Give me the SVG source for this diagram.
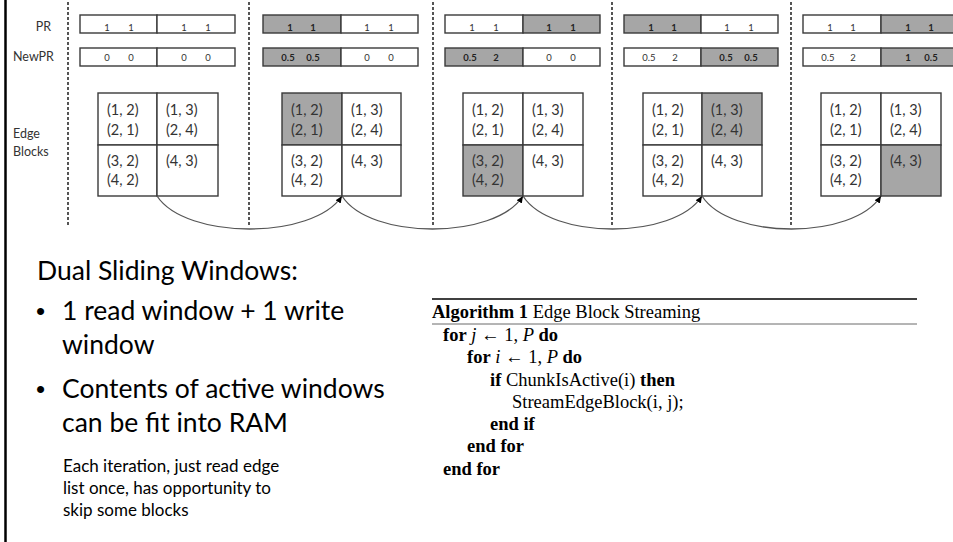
<svg xmlns="http://www.w3.org/2000/svg" width="953" height="542" viewBox="0 0 953 542">
<style>
.bar{stroke:#3a3a3a;stroke-width:1.4}
.w{fill:#ffffff}
.g{fill:#a6a6a6}
.num{font-family:Lato,"Liberation Sans",sans-serif;font-size:9.5px;fill:#333;text-anchor:middle}
.b{font-weight:bold;fill:#222}
.cell{stroke:#3a3a3a;stroke-width:1.4}
.ct{font-family:Lato,"Liberation Sans",sans-serif;font-size:14.5px;fill:#333}
.lab{font-family:Lato,"Liberation Sans",sans-serif;font-size:12.5px;fill:#333}
.div{stroke:#555;stroke-width:2;stroke-dasharray:3 2;fill:none}
.arc{fill:none;stroke:#555;stroke-width:1.3}
.big{font-family:Lato,"Liberation Sans",sans-serif;font-size:26.5px;fill:#000}
.dot{font-family:"Liberation Sans",Arial,sans-serif;font-size:26px;fill:#000}
.small{font-family:Lato,"Liberation Sans",sans-serif;font-size:17px;fill:#000}
.alg{font-family:"Liberation Serif","Times New Roman",serif;font-size:18.5px;fill:#000}
</style>
<defs>
<marker id="ah" markerWidth="8" markerHeight="8" refX="7" refY="3" orient="auto" markerUnits="userSpaceOnUse">
<path d="M0,0 L7,3 L0,6 z" fill="#000"/>
</marker>
</defs>
<rect x="0" y="0" width="953" height="542" fill="#fff"/>
<line x1="5.5" y1="0" x2="5.5" y2="542" stroke="#000" stroke-width="2.5"/>

<g id="labels">
<text class="lab" x="51" y="31" text-anchor="end">PR</text>
<text class="lab" x="13" y="61">NewPR</text>
<text class="lab" x="13" y="138">Edge</text>
<text class="lab" x="13" y="156">Blocks</text>
</g>

<g id="dividers">
<line class="div" x1="68" y1="2" x2="68" y2="226"/>
<line class="div" x1="249" y1="2" x2="249" y2="226"/>
<line class="div" x1="433" y1="2" x2="433" y2="226"/>
<line class="div" x1="612" y1="2" x2="612" y2="226"/>
<line class="div" x1="791" y1="2" x2="791" y2="226"/>
</g>

<g id="panel1">
<rect class="bar w" x="80" y="15" width="77" height="18"/>
<rect class="bar w" x="157" y="15" width="78" height="18"/>
<text class="num" x="107" y="31">1</text><text class="num" x="131" y="31">1</text>
<text class="num" x="184" y="31">1</text><text class="num" x="208" y="31">1</text>
<rect class="bar w" x="80" y="48" width="77" height="18"/>
<rect class="bar w" x="157" y="48" width="78" height="18"/>
<text class="num" x="107" y="61">0</text><text class="num" x="131" y="61">0</text>
<text class="num" x="184" y="61">0</text><text class="num" x="208" y="61">0</text>
<rect class="cell w" x="98" y="93" width="59" height="52"/>
<rect class="cell w" x="157" y="93" width="61" height="52"/>
<rect class="cell w" x="98" y="145" width="59" height="51"/>
<rect class="cell w" x="157" y="145" width="61" height="51"/>
<text class="ct" x="107" y="115">(1, 2)</text><text class="ct" x="107" y="135">(2, 1)</text>
<text class="ct" x="166" y="115">(1, 3)</text><text class="ct" x="166" y="135">(2, 4)</text>
<text class="ct" x="107" y="166">(3, 2)</text><text class="ct" x="107" y="185">(4, 2)</text>
<text class="ct" x="166" y="166">(4, 3)</text>
</g>

<g id="panel2">
<rect class="bar g" x="263" y="15" width="78" height="18"/>
<rect class="bar w" x="341" y="15" width="77" height="18"/>
<text class="num b" x="290" y="31">1</text><text class="num b" x="313" y="31">1</text>
<text class="num" x="367" y="31">1</text><text class="num" x="391" y="31">1</text>
<rect class="bar g" x="263" y="48" width="78" height="18"/>
<rect class="bar w" x="341" y="48" width="77" height="18"/>
<text class="num b" x="288" y="61">0.5</text><text class="num b" x="313" y="61">0.5</text>
<text class="num" x="367" y="61">0</text><text class="num" x="391" y="61">0</text>
<rect class="cell g" x="282" y="93" width="60" height="52"/>
<rect class="cell w" x="342" y="93" width="59" height="52"/>
<rect class="cell w" x="282" y="145" width="60" height="51"/>
<rect class="cell w" x="342" y="145" width="59" height="51"/>
<text class="ct" x="291" y="115">(1, 2)</text><text class="ct" x="291" y="135">(2, 1)</text>
<text class="ct" x="351" y="115">(1, 3)</text><text class="ct" x="351" y="135">(2, 4)</text>
<text class="ct" x="291" y="166">(3, 2)</text><text class="ct" x="291" y="185">(4, 2)</text>
<text class="ct" x="351" y="166">(4, 3)</text>
</g>

<g id="panel3">
<rect class="bar w" x="445" y="15" width="78" height="18"/>
<rect class="bar g" x="523" y="15" width="77" height="18"/>
<text class="num" x="472" y="31">1</text><text class="num" x="496" y="31">1</text>
<text class="num b" x="549" y="31">1</text><text class="num b" x="573" y="31">1</text>
<rect class="bar g" x="445" y="48" width="78" height="18"/>
<rect class="bar w" x="523" y="48" width="77" height="18"/>
<text class="num b" x="470" y="61">0.5</text><text class="num b" x="496" y="61">2</text>
<text class="num" x="549" y="61">0</text><text class="num" x="573" y="61">0</text>
<rect class="cell w" x="463" y="93" width="60" height="52"/>
<rect class="cell w" x="523" y="93" width="60" height="52"/>
<rect class="cell g" x="463" y="145" width="60" height="51"/>
<rect class="cell w" x="523" y="145" width="60" height="51"/>
<text class="ct" x="472" y="115">(1, 2)</text><text class="ct" x="472" y="135">(2, 1)</text>
<text class="ct" x="532" y="115">(1, 3)</text><text class="ct" x="532" y="135">(2, 4)</text>
<text class="ct" x="472" y="166">(3, 2)</text><text class="ct" x="472" y="185">(4, 2)</text>
<text class="ct" x="532" y="166">(4, 3)</text>
</g>

<g id="panel4">
<rect class="bar g" x="624" y="15" width="77" height="18"/>
<rect class="bar w" x="701" y="15" width="77" height="18"/>
<text class="num b" x="651" y="31">1</text><text class="num b" x="674" y="31">1</text>
<text class="num" x="727" y="31">1</text><text class="num" x="751" y="31">1</text>
<rect class="bar w" x="624" y="48" width="77" height="18"/>
<rect class="bar g" x="701" y="48" width="77" height="18"/>
<text class="num" x="649" y="61">0.5</text><text class="num" x="675" y="61">2</text>
<text class="num b" x="726" y="61">0.5</text><text class="num b" x="751" y="61">0.5</text>
<rect class="cell w" x="643" y="93" width="59" height="52"/>
<rect class="cell g" x="702" y="93" width="60" height="52"/>
<rect class="cell w" x="643" y="145" width="59" height="51"/>
<rect class="cell w" x="702" y="145" width="60" height="51"/>
<text class="ct" x="652" y="115">(1, 2)</text><text class="ct" x="652" y="135">(2, 1)</text>
<text class="ct" x="711" y="115">(1, 3)</text><text class="ct" x="711" y="135">(2, 4)</text>
<text class="ct" x="652" y="166">(3, 2)</text><text class="ct" x="652" y="185">(4, 2)</text>
<text class="ct" x="711" y="166">(4, 3)</text>
</g>

<g id="panel5">
<rect class="bar w" x="803" y="15" width="78" height="18"/>
<rect class="bar g" x="881" y="15" width="78" height="18"/>
<text class="num" x="830" y="31">1</text><text class="num" x="853" y="31">1</text>
<text class="num b" x="908" y="31">1</text><text class="num b" x="931" y="31">1</text>
<rect class="bar w" x="803" y="48" width="78" height="18"/>
<rect class="bar g" x="881" y="48" width="78" height="18"/>
<text class="num" x="828" y="61">0.5</text><text class="num" x="853" y="61">2</text>
<text class="num b" x="908" y="61">1</text><text class="num b" x="931" y="61">0.5</text>
<rect class="cell w" x="821" y="93" width="60" height="52"/>
<rect class="cell w" x="881" y="93" width="60" height="52"/>
<rect class="cell w" x="821" y="145" width="60" height="51"/>
<rect class="cell g" x="881" y="145" width="60" height="51"/>
<text class="ct" x="830" y="115">(1, 2)</text><text class="ct" x="830" y="135">(2, 1)</text>
<text class="ct" x="890" y="115">(1, 3)</text><text class="ct" x="890" y="135">(2, 4)</text>
<text class="ct" x="830" y="166">(3, 2)</text><text class="ct" x="830" y="185">(4, 2)</text>
<text class="ct" x="890" y="166">(4, 3)</text>
</g>

<g id="connectors">
<path class="arc" d="M157,196 C186,240 313,240 342,196" marker-end="url(#ah)"/>
<path class="arc" d="M342,196 C370,240 495,240 523,196" marker-end="url(#ah)"/>
<path class="arc" d="M523,196 C551,240 674,240 702,196" marker-end="url(#ah)"/>
<path class="arc" d="M702,196 C730,240 853,240 881,196" marker-end="url(#ah)"/>
</g>

<g id="bullets">
<text class="big" x="37" y="280">Dual Sliding Windows:</text>
<text class="dot" x="36" y="320">•</text>
<text class="big" x="62" y="320">1 read window + 1 write</text>
<text class="big" x="62" y="354">window</text>
<text class="dot" x="36" y="398">•</text>
<text class="big" x="62" y="398">Contents of active windows</text>
<text class="big" x="62" y="432">can be fit into RAM</text>
<text class="small" x="63" y="472">Each iteration, just read edge</text>
<text class="small" x="63" y="494">list once, has opportunity to</text>
<text class="small" x="63" y="516">skip some blocks</text>
</g>

<g id="algorithm">
<line x1="432" y1="299" x2="917" y2="299" stroke="#000" stroke-width="1.6"/>
<text class="alg" x="432" y="318"><tspan font-weight="bold">Algorithm 1</tspan> Edge Block Streaming</text>
<line x1="432" y1="324" x2="917" y2="324" stroke="#444" stroke-width="0.8"/>
<text class="alg" x="443" y="341"><tspan font-weight="bold">for</tspan> <tspan font-style="italic">j</tspan> ← 1, <tspan font-style="italic">P</tspan> <tspan font-weight="bold">do</tspan></text>
<text class="alg" x="467" y="363"><tspan font-weight="bold">for</tspan> <tspan font-style="italic">i</tspan> ← 1, <tspan font-style="italic">P</tspan> <tspan font-weight="bold">do</tspan></text>
<text class="alg" x="490" y="386"><tspan font-weight="bold">if</tspan> ChunkIsActive(i) <tspan font-weight="bold">then</tspan></text>
<text class="alg" x="512" y="408">StreamEdgeBlock(i, j);</text>
<text class="alg" x="490" y="430"><tspan font-weight="bold">end if</tspan></text>
<text class="alg" x="467" y="452"><tspan font-weight="bold">end for</tspan></text>
<text class="alg" x="443" y="475"><tspan font-weight="bold">end for</tspan></text>
</g>
</svg>
